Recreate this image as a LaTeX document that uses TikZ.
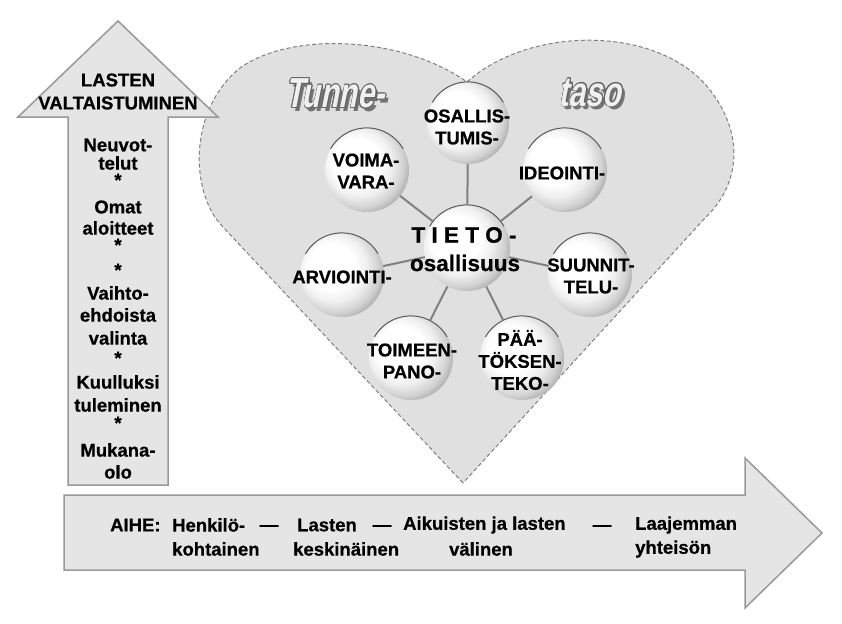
\documentclass[tikz,border=0pt]{standalone}
\usepackage{fontspec}
\setmainfont{Liberation Sans}
\newfontfamily\lblfam[BoldFeatures={FakeBold=0.6}]{Liberation Sans}
\newfontfamily\fancyfam[FakeStretch=0.72,FakeSlant=0.2]{Liberation Sans}
\newcommand\lblfont{\lblfam\bfseries\fontsize{18.5}{22}\selectfont}
\newcommand\tietofont{\lblfam\bfseries\fontsize{22.5}{26}\selectfont}
\newcommand\fancyfont{\fancyfam\bfseries\fontsize{42}{44}\selectfont}
\usepackage{contour}
\contourlength{0.9pt}
\pgfdeclareradialshading{bubble}{\pgfpoint{-9bp}{7bp}}{color(0bp)=(white); color(14bp)=(white); color(20bp)=(black!6); color(26bp)=(black!18); color(31bp)=(black!36); color(36bp)=(black!52); color(50bp)=(black!55)}
\begin{document}
\begin{tikzpicture}[x=1pt,y=-1pt,
  lbl/.style={font=\lblfont, text=black, inner sep=0pt, align=center},
  bubblenode/.style={circle, minimum size=84pt, inner sep=0pt, shade, shading=bubble},
  rim/.style={draw=black!65, line width=1pt},
  conn/.style={draw=black!50, line width=2pt},
  arrowshape/.style={fill=black!10, draw=black!40, line width=1.5pt, line join=miter},
  fancy/.style={font=\fancyfont, inner sep=0pt}]
\useasboundingbox (0,0) rectangle (842,623);
\fill[white] (0,0) rectangle (842,623);
% heart
\path[fill=black!12, draw=black!50, line width=1pt, dash pattern=on 4pt off 2.5pt]
  (463,483) -- (222,226) .. controls (190,192) and (188,110) .. (240,68)
  .. controls (290,32) and (400,35) .. (467,82)
  .. controls (530,25) and (660,25) .. (710,90)
  .. controls (745,135) and (740,185) .. (705,218) -- cycle;
% arrows
\path[arrowshape] (68,485) -- (68,117) -- (18,117) -- (118,21) -- (218,117) -- (168,117) -- (168,485) -- cycle;
\path[arrowshape] (64,495) -- (745,495) -- (745,458) -- (822,533) -- (745,608) -- (745,570) -- (64,570) -- cycle;
% Tunne- taso
\node[fancy, text=black!55] (tunnesh) at (338,97) {Tunne-};
\node[fancy, text=black!6] (tunne) at (335,94) {\contour{black!60}{Tunne-}};
\node[fancy, text=black!55] (tasosh) at (593,96) {taso};
\node[fancy, text=black!6] (taso) at (590,93) {\contour{black!60}{taso}};
% circles
\node[bubblenode, minimum size=82pt] (cosal) at (468,123) {};
\node[bubblenode] (cvoima) at (367,170) {};
\node[bubblenode] (cideo) at (565,170) {};
\node[bubblenode, minimum size=86pt] (ctieto) at (467,248) {};
\node[bubblenode] (carvi) at (342,275) {};
\node[bubblenode] (csuun) at (590,275) {};
\node[bubblenode] (ctoim) at (411,358) {};
\node[bubblenode] (cpaat) at (522,358) {};
\foreach \c/\r in {cosal/41,cvoima/42,cideo/42,ctieto/43,carvi/42,csuun/42,ctoim/42,cpaat/42}
  \draw[rim] (\c.150) arc[start angle=150, end angle=30, radius=\r pt];
\foreach \c in {cosal,cvoima,cideo,carvi,csuun,ctoim,cpaat}
  \draw[conn] (ctieto) -- (\c);
% circle labels
\node[lbl] (tosal) at (467,127) {OSALLIS-\\TUMIS-};
\node[lbl] (tvoima) at (366,171) {VOIMA-\\VARA-};
\node[lbl] (tideo) at (562,173) {IDEOINTI-};
\node[lbl] (tarvi) at (342,277) {ARVIOINTI-};
\node[lbl] (tsuun) at (591,276) {SUUNNIT-\\TELU-};
\node[lbl] (ttoim) at (412,361) {TOIMEEN-\\PANO-};
\node[lbl] (tpaat) at (520,360) {PÄÄ-\\TÖKSEN-\\TEKO-};
\node[font=\tietofont, inner sep=0pt] (ttieto) at (464,235) {T I E T O -};
\node[font=\tietofont, inner sep=0pt] (tosall) at (465,263) {osallisuus};
% up arrow labels
\foreach \t/\y [count=\i] in {LASTEN/80, VALTAISTUMINEN/103, Neuvot-/145, telut/163, */180, Omat/207, aloitteet/228, */245, */270, Vaihto-/293, ehdoista/315, valinta/338, */358, Kuulluksi/382, tuleminen/405, */423, Mukana-/450, olo/472}
  \node[lbl] (up\i) at (118,\y) {\t};
% bottom arrow labels
\node[lbl, anchor=west] (aihe) at (110,525) {AIHE:};
\node[lbl, anchor=west] (henk) at (172,525) {Henkilö-};
\node[lbl, anchor=west] (koht) at (172,549) {kohtainen};
\node[lbl] (d1) at (269,528) {—};
\node[lbl, anchor=west] (last) at (297,525) {Lasten};
\node[lbl, anchor=west] (kesk) at (293,549) {keskinäinen};
\node[lbl] (d2) at (382,528) {—};
\node[lbl, anchor=west] (aiku) at (403,525) {Aikuisten ja lasten};
\node[lbl] (vali) at (481,549) {välinen};
\node[lbl] (d3) at (602,528) {—};
\node[lbl, anchor=west] (laaj) at (635,525) {Laajemman};
\node[lbl, anchor=west] (yhte) at (635,549) {yhteisön};
\end{tikzpicture}
\end{document}
